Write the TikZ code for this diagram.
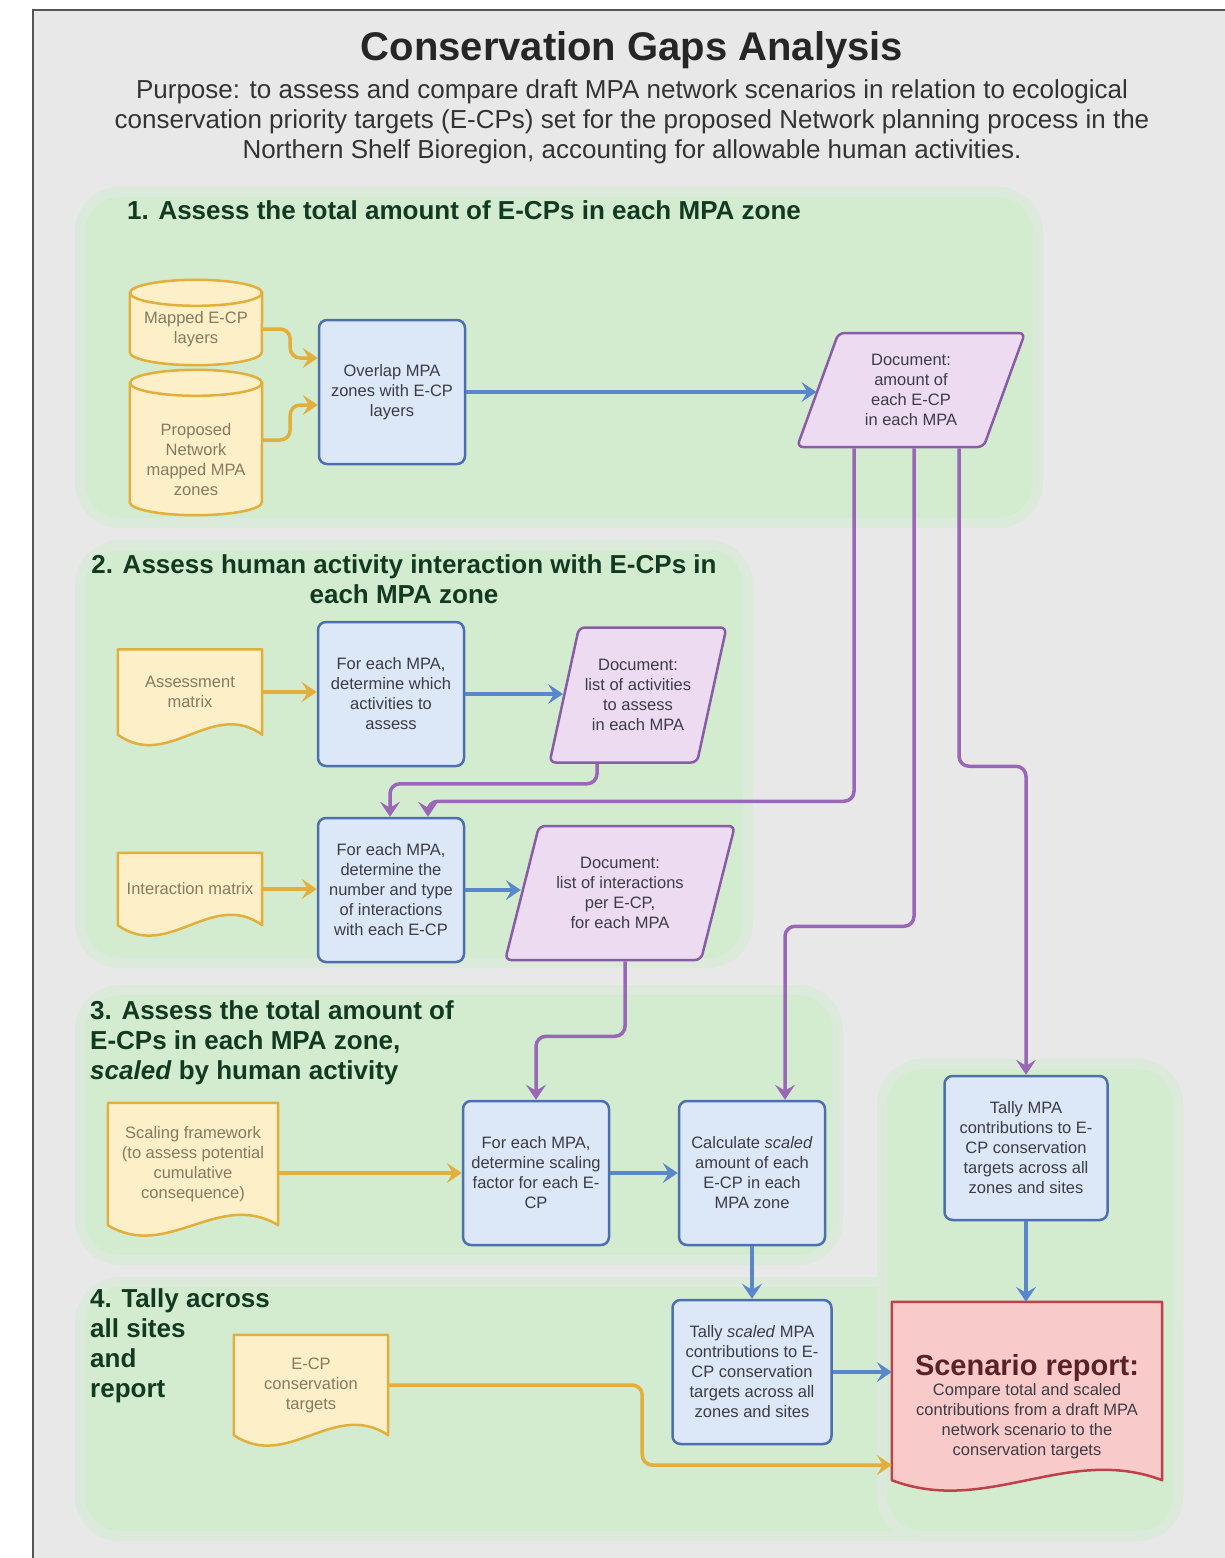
\documentclass[tikz,border=0pt]{standalone}
\usepackage{fontspec}
\setmainfont{Liberation Sans}
\usetikzlibrary{arrows.meta,calc,shapes.geometric}

\definecolor{pagegrey}{HTML}{E8E8E8}
\definecolor{framegrey}{HTML}{555555}
\definecolor{zonegreen}{HTML}{D3ECD0}
\definecolor{headgreen}{HTML}{123A20}
\definecolor{inputfill}{HTML}{FDEFC8}
\definecolor{inputline}{HTML}{E2AE3C}
\definecolor{inputtext}{HTML}{867A60}
\definecolor{stepfill}{HTML}{DCE7F7}
\definecolor{stepline}{HTML}{4D6FB0}
\definecolor{flowblue}{HTML}{5A86CC}
\definecolor{docfill}{HTML}{EDDCF1}
\definecolor{docline}{HTML}{8A5CA6}
\definecolor{linkpurple}{HTML}{9A67B8}
\definecolor{reportfill}{HTML}{F9CACA}
\definecolor{reportline}{HTML}{BE4048}
\definecolor{reporttitle}{HTML}{5A2228}
\definecolor{bodytext}{HTML}{3C3C46}

\pgfdeclarelayer{zone}
\pgfdeclarelayer{shape}
\pgfsetlayers{zone,shape,main}

% wavy document outline behind a node
\newcommand{\wavedoc}[2]{%
  \begin{pgfonlayer}{shape}
  \draw[#2] (#1.north west) -- (#1.north east) -- (#1.south east)
    .. controls ($(#1.south east)!0.35!(#1.south west)+(0,-36)$)
    and ($(#1.south east)!0.65!(#1.south west)+(0,36)$) .. (#1.south west) -- cycle;
  \end{pgfonlayer}}

% database cylinder behind a node, #2 = gap from top ellipse to node
\newcommand{\dbdraw}[2]{%
  \begin{pgfonlayer}{shape}
  \path[fill=inputfill] ($(#1.north west)+(0,-#2)$) -- (#1.south west)
    arc[start angle=180,end angle=360,x radius=66pt,y radius=13pt]
    -- ($(#1.north east)+(0,-#2)$)
    arc[start angle=0,end angle=180,x radius=66pt,y radius=13pt] -- cycle;
  \draw[draw=inputline,line width=2.5pt] ($(#1.north west)+(0,-#2)$) -- (#1.south west)
    arc[start angle=180,end angle=360,x radius=66pt,y radius=13pt]
    -- ($(#1.north east)+(0,-#2)$);
  \draw[draw=inputline,line width=2.5pt] ($(#1.north)+(0,-#2)$) ellipse[x radius=66pt,y radius=13pt];
  \end{pgfonlayer}}

\begin{document}
\begin{tikzpicture}[x=1pt,y=-1pt,
  boxfont/.style={font=\fontsize{16.5}{20}\selectfont},
  stepbox/.style={rectangle,rounded corners=8pt,draw=stepline,fill=stepfill,line width=2.5pt,
    minimum width=146,minimum height=144,align=center,boxfont,text=bodytext,inner sep=2pt},
  docbox/.style={trapezium,trapezium left angle=70,trapezium right angle=110,trapezium stretches=true,
    rounded corners=6pt,draw=docline,fill=docfill,line width=2.5pt,align=center,boxfont,
    text=bodytext,inner sep=2pt},
  inputdoc/.style={rectangle,align=center,boxfont,text=inputtext,inner sep=2pt},
  dbnode/.style={rectangle,minimum width=132,align=center,boxfont,text=inputtext,inner sep=2pt},
  inputline/.style={draw=inputline,fill=inputfill,line width=2.5pt,line join=round},
  reportline/.style={draw=reportline,fill=reportfill,line width=2.5pt,line join=round},
  zone/.style={fill=zonegreen,draw=zonegreen!55!pagegrey,line width=10pt,rounded corners=40pt},
  stephead/.style={font=\fontsize{26}{30}\selectfont\bfseries,text=headgreen,inner sep=0pt},
  feed/.style={draw=inputline,line width=3.5pt,rounded corners=10pt,
    -{Stealth[length=15pt,width=20pt,inset=6pt]}},
  flow/.style={draw=flowblue,line width=3.5pt,rounded corners=10pt,
    -{Stealth[length=15pt,width=20pt,inset=6pt]}},
  link/.style={draw=linkpurple,line width=3.5pt,rounded corners=10pt,
    -{Stealth[length=15pt,width=20pt,inset=6pt]}}
]
\useasboundingbox (0,0) rectangle (1225,1558);

\begin{pgfonlayer}{zone}
\draw[fill=pagegrey,draw=framegrey,line width=2pt] (33,10) rectangle (1245,1580);
\path[zone] (80,192) rectangle (1038,523);
\path[zone] (80,545) rectangle (748,963);
\path[zone] (80,990) rectangle (838,1260);
\path[zone] (80,1282) rectangle (1178,1536);
\path[zone] (882,1064) rectangle (1178,1536);
\end{pgfonlayer}

% titles
\node[font=\fontsize{40}{44}\selectfont\bfseries,text=black!85] (title) at (632,50) {Conservation Gaps Analysis};
\node[font=\fontsize{26}{30}\selectfont,text=black!80,align=center] (purpose) at (632,122)
  {Purpose: to assess and compare draft MPA network scenarios in relation to ecological\\
   conservation priority targets (E-CPs) set for the proposed Network planning process in the\\
   Northern Shelf Bioregion, accounting for allowable human activities.};

\node[stephead,anchor=west] (head1) at (127,210) {1. Assess the total amount of E-CPs in each MPA zone};
\node[stephead,align=center] (head2) at (404,579) {2. Assess human activity interaction with E-CPs in\\each MPA zone};
\node[stephead,align=left,anchor=north west] (head3) at (90,1000)
  {3. Assess the total amount of\\E-CPs in each MPA zone,\\\textit{scaled} by human activity};
\node[stephead,align=left,anchor=north west] (head4) at (90,1288) {4. Tally across\\all sites\\and\\report};

% 1. total amount
\node[dbnode,minimum height=46] (ecplayers) at (196,329) {Mapped E-CP\\layers};
\dbdraw{ecplayers}{13}
\node[dbnode,minimum height=84] (mpazones) at (196,460) {Proposed\\Network\\mapped MPA\\zones};
\dbdraw{mpazones}{35}
\node[stepbox] (overlap) at (392,392) {Overlap MPA\\zones with E-CP\\layers};
\node[docbox,minimum width=228,minimum height=114] (ecpamount) at (911,390) {Document:\\amount of\\each E-CP\\in each MPA};

% 2. human activity interaction
\node[inputdoc,minimum width=144,minimum height=85] (assessmx) at (190,692) {Assessment\\matrix};
\wavedoc{assessmx}{inputline}
\node[stepbox] (whichact) at (391,694) {For each MPA,\\determine which\\activities to\\assess};
\node[docbox,minimum width=177,minimum height=135] (actlist) at (638,695) {Document:\\list of activities\\to assess\\in each MPA};
\node[inputdoc,minimum width=144,minimum height=72] (intermx) at (190,889) {Interaction matrix};
\wavedoc{intermx}{inputline}
\node[stepbox] (numtype) at (391,890) {For each MPA,\\determine the\\number and type\\of interactions\\with each E-CP};
\node[docbox,minimum width=230,minimum height=134] (interlist) at (620,893) {Document:\\list of interactions\\per E-CP,\\for each MPA};

% 3. scaled amount
\node[inputdoc,minimum width=170,minimum height=122] (scalefw) at (193,1164) {Scaling framework\\(to assess potential\\cumulative\\consequence)};
\wavedoc{scalefw}{inputline}
\node[stepbox] (scalefac) at (536,1173) {For each MPA,\\determine scaling\\factor for each E-\\CP};
\node[stepbox] (calcscaled) at (752,1173) {Calculate \textit{scaled}\\amount of each\\E-CP in each\\MPA zone};
\node[stepbox,minimum width=163] (tallympa) at (1026,1148) {Tally MPA\\contributions to E-\\CP conservation\\targets across all\\zones and sites};

% 4. tally and report
\node[inputdoc,minimum width=154,minimum height=100] (targets) at (311,1385) {E-CP\\conservation\\targets};
\wavedoc{targets}{inputline}
\node[stepbox,minimum width=159] (tallyscaled) at (752,1372) {Tally \textit{scaled} MPA\\contributions to E-\\CP conservation\\targets across all\\zones and sites};
\node[inputdoc,text=bodytext,minimum width=270,minimum height=178] (report) at (1027,1391)
  {\rule{0pt}{52pt}{\fontsize{29}{32}\selectfont\bfseries\color{reporttitle}Scenario report:}\\
   Compare total and scaled\\contributions from a draft MPA\\network scenario to the\\conservation targets};
\wavedoc{report}{reportline}

% connectors
\draw[feed] (ecplayers.east) -- ++(28,0) |- ([yshift=34pt]overlap.west);
\draw[feed] ([yshift=20pt]mpazones.east) -- ++(28,0) |- ([yshift=-13pt]overlap.west);
\draw[flow] (overlap.east) -- (ecpamount.west |- overlap.east);

\draw[link] ([xshift=-57pt]ecpamount.south) -- ++(0,353) -| ([xshift=37pt]numtype.north);
\draw[link] ([xshift=3pt]ecpamount.south) -- ++(0,478) -| ([xshift=33pt]calcscaled.north);
\draw[link] ([xshift=48pt]ecpamount.south) -- ++(0,318) -| (tallympa.north);

\draw[feed] (assessmx.east) -- (whichact.west |- assessmx.east);
\draw[flow] (whichact.east) -- (actlist.west |- whichact.east);
\draw[link] ([xshift=-41pt]actlist.south) -- ++(0,20) -| ([xshift=-1pt]numtype.north);
\draw[feed] (intermx.east) -- (numtype.west |- intermx.east);
\draw[flow] (numtype.east) -- (interlist.west |- numtype.east);
\draw[link] ([xshift=5pt]interlist.south) -- ++(0,75) -| (scalefac.north);

\draw[feed] (scalefw.east |- scalefac.west) -- (scalefac.west);
\draw[flow] (scalefac.east) -- (calcscaled.west);
\draw[flow] (calcscaled.south) -- (tallyscaled.north);
\draw[flow] (tallympa.south) -- (tallympa.south |- report.north);

\draw[flow] (tallyscaled.east) -- (report.west |- tallyscaled.east);
\draw[feed] (targets.east) -- ++(254,0) |- ([yshift=-74pt]report.west);
\end{tikzpicture}
\end{document}
